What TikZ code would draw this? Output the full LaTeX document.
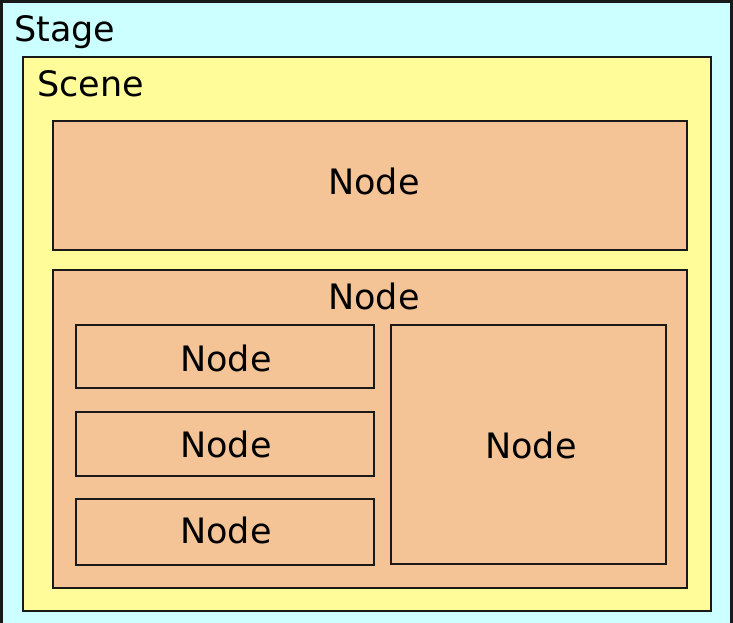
\documentclass[tikz,border=0pt]{standalone}
\usepackage{fontspec}
\setmainfont{DejaVu Sans}
\begin{document}
\begin{tikzpicture}[x=1pt,y=-1pt,
  lbl/.style={inner sep=0pt,font=\fontsize{35}{42}\selectfont},
  stagebox/.style={draw=black!90,line width=2.8pt,fill=stagec,inner sep=0pt,outer sep=0pt,anchor=north west},
  scenebox/.style={draw=black!90,line width=2.8pt,fill=scenec,inner sep=0pt,outer sep=0pt,anchor=north west},
  nodebox/.style={draw=black!90,line width=2.8pt,fill=nodec,inner sep=0pt,outer sep=0pt,anchor=north west}]
\definecolor{stagec}{RGB}{204,255,255}
\definecolor{scenec}{RGB}{255,252,153}
\definecolor{nodec}{RGB}{244,196,150}
\useasboundingbox (0,0) rectangle (733,623);
\clip (0,0) rectangle (733,623);
\node[stagebox,minimum width=730pt,minimum height=660pt] (stage) at (1.5,1.5) {};
\node[lbl,anchor=base west] (stagelbl) at (14,42) {Stage};
\node[scenebox,minimum width=688pt,minimum height=554pt] (scene) at (23,57) {};
\node[lbl,anchor=base west] (scenelbl) at (37,97) {Scene};
\node[nodebox,minimum width=634pt,minimum height=129pt] (n1) at (53,121) {};
\node[lbl,anchor=base] (n1lbl) at (374,194) {Node};
\node[nodebox,minimum width=634pt,minimum height=318pt] (n2) at (53,270) {};
\node[lbl,anchor=base] (n2lbl) at (374,309) {Node};
\node[nodebox,minimum width=298pt,minimum height=63pt] (a) at (76,325) {};
\node[lbl,anchor=base] (albl) at (226,371) {Node};
\node[nodebox,minimum width=298pt,minimum height=64pt] (b) at (76,412) {};
\node[lbl,anchor=base] (blbl) at (226,457) {Node};
\node[nodebox,minimum width=298pt,minimum height=66pt] (c) at (76,499) {};
\node[lbl,anchor=base] (clbl) at (226,543) {Node};
\node[nodebox,minimum width=275pt,minimum height=239pt] (d) at (391,325) {};
\node[lbl,anchor=base] (dlbl) at (531,458) {Node};
\end{tikzpicture}
\end{document}
